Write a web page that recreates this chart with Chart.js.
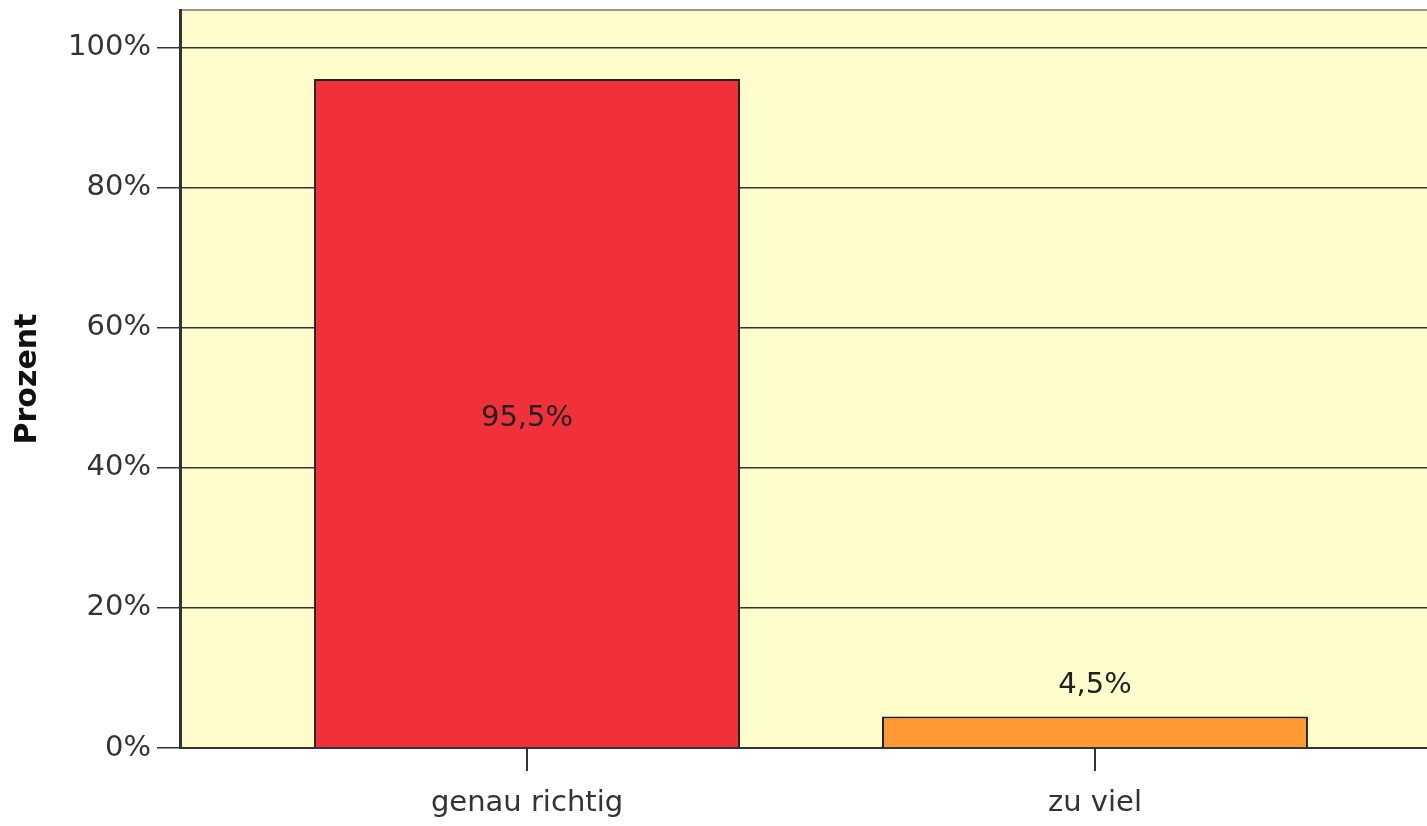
<!DOCTYPE html>
<html>
<head>
<meta charset="utf-8">
<script src="https://cdn.jsdelivr.net/npm/chart.js@4"></script>
<style>
  html,body{margin:0;padding:0;background:#fff;overflow:hidden;}
  #wrap{width:1460px;height:826px;}
</style>
</head>
<body>
<div id="wrap"><canvas id="c" width="1460" height="826"></canvas></div>
<script>
// values
const categories = ['genau richtig', 'zu viel'];
const percents = [95.5, 4.5];
const barColors = ['#F0313A', '#FF9933'];
const yTicks = [0, 20, 40, 60, 80, 100];

const fmt = v => v.toFixed(1).replace('.', ',') + '%';
const FONT = '"DejaVu Sans", Verdana, sans-serif';

// plot background + top frame line
const plotBg = {
  id: 'plotBg',
  beforeDraw(chart){
    const {ctx, chartArea:a} = chart;
    ctx.save();
    ctx.fillStyle = '#FFFDCC';
    ctx.fillRect(a.left, a.top, a.right - a.left, a.bottom - a.top);
    ctx.strokeStyle = '#9a9a8a'; ctx.lineWidth = 2;
    ctx.beginPath(); ctx.moveTo(a.left, a.top); ctx.lineTo(a.right, a.top); ctx.stroke();
    ctx.restore();
  }
};

// value labels: inside when the bar is tall, above otherwise
const valueLabels = {
  id: 'valueLabels',
  afterDatasetsDraw(chart){
    const {ctx} = chart;
    const meta = chart.getDatasetMeta(0);
    ctx.save();
    ctx.font = '29px ' + FONT;
    ctx.fillStyle = '#222';
    ctx.textAlign = 'center'; ctx.textBaseline = 'middle';
    meta.data.forEach((bar, i) => {
      const h = bar.base - bar.y;
      const y = h > 60 ? (bar.y + bar.base) / 2 + 5 : bar.y - 31;
      ctx.fillText(fmt(percents[i]), bar.x, y);
    });
    ctx.restore();
  }
};

new Chart(document.getElementById('c'), {
  type: 'bar',
  data: {
    datasets: [{
      data: percents.map((v, i) => ({x: i + 1, y: v})),
      backgroundColor: barColors,
      borderColor: '#222',
      borderWidth: 2,
      barPercentage: 0.75,
      categoryPercentage: 1
    }]
  },
  options: {
    responsive: false,
    animation: false,
    layout: {padding: {top: 10, right: 18, left: 0, bottom: 0}},
    plugins: {legend: {display: false}, tooltip: {enabled: false}},
    scales: {
      x: {
        type: 'linear',
        offset: false,
        min: 0.389, max: 2.611,
        afterFit: s => { s.height = 78; s.paddingLeft = 0; s.paddingRight = 0; },
        afterBuildTicks: s => { s.ticks = categories.map((c, i) => ({value: i + 1})); },
        grid: {offset: false, drawOnChartArea: false, drawTicks: true, tickLength: 23, color: '#333', lineWidth: 2},
        border: {display: true, color: '#333', width: 2},
        ticks: {
          padding: 15,
          color: '#333',
          font: {family: FONT, size: 29},
          callback: v => categories[v - 1] || ''
        }
      },
      y: {
        min: 0, max: 105.35,
        afterFit: s => { s.width = 180; s.paddingTop = 0; s.paddingBottom = 0; },
        afterBuildTicks: s => { s.ticks = yTicks.map(v => ({value: v})); },
        grid: {color: '#333', lineWidth: 1.5, tickLength: 23},
        border: {display: true, color: '#333', width: 3},
        ticks: {
          padding: 6,
          color: '#333',
          font: {family: FONT, size: 29},
          callback: v => v + '%'
        },
        title: {
          display: true,
          text: 'Prozent',
          color: '#111',
          padding: {top: 10, bottom: 0},
          font: {family: FONT, size: 30, weight: 'bold'}
        }
      }
    }
  },
  plugins: [plotBg, valueLabels]
});
</script>
</body>
</html>
